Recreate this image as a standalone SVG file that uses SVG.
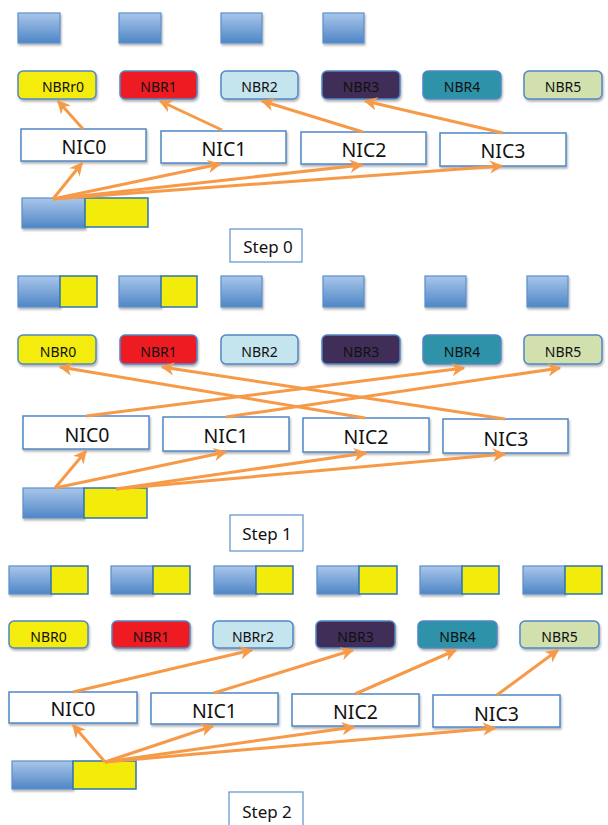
<svg xmlns="http://www.w3.org/2000/svg" width="608" height="825" viewBox="0 0 608 825">
<defs>
<linearGradient id="bg" x1="0" y1="0" x2="0" y2="1">
<stop offset="0" stop-color="#A9C6EA"/>
<stop offset="1" stop-color="#4F86C6"/>
</linearGradient>
<filter id="sh" x="-20%" y="-20%" width="140%" height="160%">
<feGaussianBlur in="SourceAlpha" stdDeviation="1.2"/>
<feOffset dx="1" dy="2" result="o"/>
<feComponentTransfer><feFuncA type="linear" slope="0.3"/></feComponentTransfer>
<feMerge><feMergeNode/><feMergeNode in="SourceGraphic"/></feMerge>
</filter>
<marker id="ah" viewBox="0 0 10 10" refX="9" refY="5" markerWidth="4.5" markerHeight="4.5" orient="auto" markerUnits="strokeWidth">
<path d="M0,0 L10,5 L0,10 L3,5 z" fill="#F79A48"/>
</marker>
</defs>
<style>
.blu{fill:url(#bg);stroke:#5B8FCB;stroke-width:1.2;filter:url(#sh)}
.yel{fill:#F3EC0A;stroke:#2E75B6;stroke-width:1.5}
.nbr{stroke:#4F86C6;stroke-width:1.5;filter:url(#sh)}
.nic{fill:#fff;stroke:#4F86C6;stroke-width:1.5;filter:url(#sh)}
.stp{fill:#fff;stroke:#5B8FCB;stroke-width:1.2}
.nt{font-family:"Noto Sans","DejaVu Sans",sans-serif;font-size:14px;fill:#111;text-anchor:middle}
.it{font-family:"Noto Sans","DejaVu Sans",sans-serif;font-size:19.5px;fill:#111;text-anchor:middle}
.st{font-family:"Noto Sans","DejaVu Sans",sans-serif;font-size:17px;fill:#111;text-anchor:middle}
.c{stroke:#F79A48;stroke-width:3;fill:none;marker-end:url(#ah)}
</style>

<!-- ===== Step 0 ===== -->
<g id="s0-buffers">
<rect class="blu" x="18" y="13" width="42" height="30"/>
<rect class="blu" x="119" y="13" width="42" height="30"/>
<rect class="blu" x="221" y="13" width="41" height="30"/>
<rect class="blu" x="323" y="13" width="41" height="30"/>
</g>
<g id="s0-nbr0"><rect class="nbr" x="18" y="71" width="78" height="28" rx="5" fill="#F3EC0A"/><text class="nt" x="63" y="92">NBRr0</text></g>
<g id="s0-nbr1"><rect class="nbr" x="120" y="71" width="77" height="28" rx="5" fill="#EE1D23"/><text class="nt" x="158.5" y="92">NBR1</text></g>
<g id="s0-nbr2"><rect class="nbr" x="221" y="71" width="77" height="28" rx="5" fill="#C4E4EE"/><text class="nt" x="259.5" y="92">NBR2</text></g>
<g id="s0-nbr3"><rect class="nbr" x="322" y="71" width="78" height="28" rx="5" fill="#402D58"/><text class="nt" x="361" y="92">NBR3</text></g>
<g id="s0-nbr4"><rect class="nbr" x="423" y="71" width="78" height="28" rx="5" fill="#2D92A8"/><text class="nt" x="462" y="92">NBR4</text></g>
<g id="s0-nbr5"><rect class="nbr" x="524" y="71" width="78" height="28" rx="5" fill="#D2E0AE"/><text class="nt" x="563" y="92">NBR5</text></g>
<g id="s0-nic0"><rect class="nic" x="21" y="129" width="125" height="32"/><text class="it" x="84" y="154">NIC0</text></g>
<g id="s0-nic1"><rect class="nic" x="161" y="131" width="125" height="32"/><text class="it" x="224" y="156">NIC1</text></g>
<g id="s0-nic2"><rect class="nic" x="301" y="132" width="125" height="32"/><text class="it" x="364" y="157">NIC2</text></g>
<g id="s0-nic3"><rect class="nic" x="440" y="133" width="126" height="33"/><text class="it" x="503" y="158">NIC3</text></g>
<g id="s0-src"><rect class="blu" x="22" y="198" width="63" height="30"/><rect class="yel" x="85" y="198" width="63" height="29"/></g>
<g id="s0-label"><rect class="stp" x="230" y="229" width="72" height="33"/><text class="st" x="268" y="253">Step 0</text></g>

<!-- ===== Step 1 ===== -->
<g id="s1-buffers">
<rect class="blu" x="18" y="276" width="42" height="31"/><rect class="yel" x="60" y="276" width="37" height="31"/>
<rect class="blu" x="119" y="276" width="42" height="31"/><rect class="yel" x="161" y="276" width="36" height="31"/>
<rect class="blu" x="221" y="276" width="41" height="31"/>
<rect class="blu" x="323" y="276" width="41" height="31"/>
<rect class="blu" x="425" y="276" width="41" height="31"/>
<rect class="blu" x="527" y="276" width="41" height="31"/>
</g>
<g id="s1-nbr0"><rect class="nbr" x="18" y="335" width="78" height="29" rx="5" fill="#F3EC0A"/><text class="nt" x="58" y="357">NBR0</text></g>
<g id="s1-nbr1"><rect class="nbr" x="120" y="335" width="77" height="29" rx="5" fill="#EE1D23"/><text class="nt" x="158.5" y="357">NBR1</text></g>
<g id="s1-nbr2"><rect class="nbr" x="221" y="335" width="77" height="29" rx="5" fill="#C4E4EE"/><text class="nt" x="259.5" y="357">NBR2</text></g>
<g id="s1-nbr3"><rect class="nbr" x="322" y="335" width="78" height="29" rx="5" fill="#402D58"/><text class="nt" x="361" y="357">NBR3</text></g>
<g id="s1-nbr4"><rect class="nbr" x="423" y="335" width="78" height="29" rx="5" fill="#2D92A8"/><text class="nt" x="462" y="357">NBR4</text></g>
<g id="s1-nbr5"><rect class="nbr" x="524" y="335" width="78" height="29" rx="5" fill="#D2E0AE"/><text class="nt" x="563" y="357">NBR5</text></g>
<g id="s1-nic0"><rect class="nic" x="23" y="416" width="126" height="33"/><text class="it" x="87" y="442">NIC0</text></g>
<g id="s1-nic1"><rect class="nic" x="163" y="417" width="126" height="34"/><text class="it" x="226" y="443">NIC1</text></g>
<g id="s1-nic2"><rect class="nic" x="303" y="418" width="126" height="34"/><text class="it" x="366" y="444">NIC2</text></g>
<g id="s1-nic3"><rect class="nic" x="443" y="419" width="125" height="34"/><text class="it" x="506" y="446">NIC3</text></g>
<g id="s1-src"><rect class="blu" x="23" y="488" width="61" height="30"/><rect class="yel" x="84" y="488" width="63" height="30"/></g>
<g id="s1-label"><rect class="stp" x="230" y="515" width="73" height="36"/><text class="st" x="267" y="540">Step 1</text></g>

<!-- ===== Step 2 ===== -->
<g id="s2-buffers">
<rect class="blu" x="9" y="566" width="42" height="28"/><rect class="yel" x="51" y="566" width="37" height="28"/>
<rect class="blu" x="111" y="566" width="42" height="28"/><rect class="yel" x="153" y="566" width="37" height="28"/>
<rect class="blu" x="214" y="566" width="42" height="28"/><rect class="yel" x="256" y="566" width="37" height="28"/>
<rect class="blu" x="317" y="566" width="42" height="28"/><rect class="yel" x="359" y="566" width="38" height="28"/>
<rect class="blu" x="420" y="566" width="42" height="28"/><rect class="yel" x="462" y="566" width="37" height="28"/>
<rect class="blu" x="523" y="566" width="42" height="28"/><rect class="yel" x="565" y="566" width="37" height="28"/>
</g>
<g id="s2-nbr0"><rect class="nbr" x="9" y="621" width="79" height="27" rx="5" fill="#F3EC0A"/><text class="nt" x="48.5" y="642">NBR0</text></g>
<g id="s2-nbr1"><rect class="nbr" x="112" y="621" width="78" height="27" rx="5" fill="#EE1D23"/><text class="nt" x="151" y="642">NBR1</text></g>
<g id="s2-nbr2"><rect class="nbr" x="213" y="621" width="80" height="27" rx="5" fill="#C4E4EE"/><text class="nt" x="253" y="642">NBRr2</text></g>
<g id="s2-nbr3"><rect class="nbr" x="316" y="621" width="79" height="27" rx="5" fill="#402D58"/><text class="nt" x="355.5" y="642">NBR3</text></g>
<g id="s2-nbr4"><rect class="nbr" x="418" y="621" width="79" height="27" rx="5" fill="#2D92A8"/><text class="nt" x="457.5" y="642">NBR4</text></g>
<g id="s2-nbr5"><rect class="nbr" x="520" y="621" width="79" height="27" rx="5" fill="#D2E0AE"/><text class="nt" x="559.5" y="642">NBR5</text></g>
<g id="s2-nic0"><rect class="nic" x="9" y="692" width="128" height="31"/><text class="it" x="73" y="716">NIC0</text></g>
<g id="s2-nic1"><rect class="nic" x="151" y="693" width="127" height="31"/><text class="it" x="214.5" y="718">NIC1</text></g>
<g id="s2-nic2"><rect class="nic" x="292" y="694" width="127" height="32"/><text class="it" x="355.5" y="719">NIC2</text></g>
<g id="s2-nic3"><rect class="nic" x="433" y="695" width="127" height="32"/><text class="it" x="496.5" y="721">NIC3</text></g>
<g id="s2-src"><rect class="blu" x="12" y="761" width="61" height="28"/><rect class="yel" x="73" y="761" width="63" height="28"/></g>
<g id="s2-label"><rect class="stp" x="229" y="792" width="74" height="40"/><text class="st" x="267" y="818">Step 2</text></g>

<!-- ===== Connectors ===== -->
<g id="connectors">
<!-- step 0 -->
<line class="c" x1="53" y1="199" x2="82" y2="163"/>
<line class="c" x1="53" y1="199" x2="220" y2="164"/>
<line class="c" x1="53" y1="199" x2="362" y2="165"/>
<line class="c" x1="53" y1="199" x2="502" y2="166"/>
<line class="c" x1="83" y1="129" x2="58" y2="101"/>
<line class="c" x1="222" y1="130" x2="160" y2="101"/>
<line class="c" x1="363" y1="132" x2="262" y2="101"/>
<line class="c" x1="503" y1="133" x2="365" y2="101"/>
<!-- step 1 -->
<line class="c" x1="55" y1="488" x2="86" y2="451"/>
<line class="c" x1="55" y1="488" x2="226" y2="452"/>
<line class="c" x1="116" y1="489" x2="366" y2="453"/>
<line class="c" x1="116" y1="489" x2="505" y2="454"/>
<line class="c" x1="86" y1="416" x2="464" y2="368"/>
<line class="c" x1="226" y1="417" x2="560" y2="368"/>
<line class="c" x1="365" y1="418" x2="60" y2="367"/>
<line class="c" x1="505" y1="419" x2="162" y2="367"/>
<!-- step 2 -->
<line class="c" x1="105" y1="762" x2="73" y2="725"/>
<line class="c" x1="105" y1="762" x2="213" y2="726"/>
<line class="c" x1="105" y1="762" x2="354" y2="727"/>
<line class="c" x1="105" y1="762" x2="495" y2="728"/>
<line class="c" x1="73" y1="692" x2="252" y2="650"/>
<line class="c" x1="214" y1="693" x2="353" y2="650"/>
<line class="c" x1="355" y1="694" x2="456" y2="650"/>
<line class="c" x1="497" y1="695" x2="558" y2="650"/>
</g>
</svg>
